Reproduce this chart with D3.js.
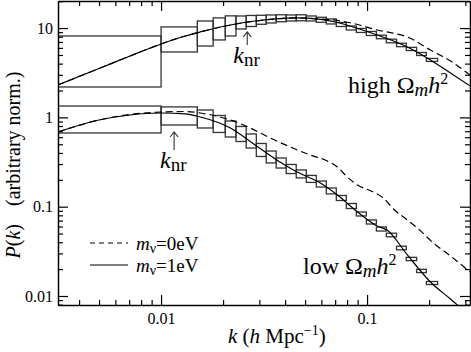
<!DOCTYPE html>
<html>
<head>
<meta charset="utf-8">
<script src="https://cdn.jsdelivr.net/npm/d3@7"></script>
<style>
body { margin: 0; background: #fff; }
svg { display: block; font-family: "Liberation Serif", "Times New Roman", serif; }
.axis path { stroke: #000; stroke-width: 1.5; }
.axis line { stroke: #000; stroke-width: 1.2; }
.axis text { font-size: 16px; fill: #000; font-family: "Liberation Serif", serif; }
</style>
</head>
<body>
<svg width="471" height="352"></svg>
<script>
// bandpower bin edges (k in h/Mpc)
const kEdges = [0.00316, 0.01, 0.015, 0.0179, 0.0205, 0.0231, 0.0259, 0.029, 0.0324, 0.0362,
	0.0405, 0.0453, 0.0507, 0.0567, 0.0634, 0.0709, 0.0793, 0.0887, 0.0992, 0.111,
	0.124, 0.139, 0.155, 0.174, 0.194, 0.22];

// error boxes, high Omega_m h^2 (upper set)
const highLo = [2.19, 5.40, 6.30, 7.36, 8.16, 9.77, 10.42, 11.03, 11.41, 11.77, 12.01, 12.07, 12.01,
	11.61, 11.12, 10.42, 9.52, 8.93, 8.26, 7.59, 6.84, 6.19, 5.60, 4.93, 4.23];
const highHi = [8.16, 10.3, 12.0, 13.0, 13.7, 13.66, 13.84, 13.91, 14.02, 14.09, 14.02, 14.09, 13.66,
	13.21, 12.65, 11.55, 10.56, 9.90, 9.16, 8.33, 7.51, 6.76, 6.08, 5.33, 4.57];

// error boxes, low Omega_m h^2 (lower set)
const lowLo = [0.669, 0.822, 0.761, 0.678, 0.603, 0.537, 0.454, 0.365, 0.309, 0.271, 0.235, 0.210, 0.187,
	0.166, 0.139, 0.1173, 0.0954, 0.0787, 0.0640, 0.0534, 0.0460, 0.0329, 0.0249, 0.0183, 0.01345];
const lowHi = [1.34, 1.31, 1.21, 1.05, 0.911, 0.791, 0.652, 0.510, 0.420, 0.351, 0.297, 0.258, 0.224,
	0.194, 0.162, 0.1335, 0.1086, 0.0872, 0.0710, 0.0593, 0.0505, 0.0361, 0.0271, 0.0199, 0.01453];

// model curves
const kGrid = [0.00316, 0.005, 0.00707, 0.01, 0.0131, 0.0155, 0.0217, 0.0286, 0.0358, 0.0448,
	0.0594, 0.0718, 0.09, 0.112, 0.125, 0.157, 0.203, 0.254, 0.316];
const highNu1 = [2.31, 3.53, 4.87, 6.64, 8.16, 9.05, 10.83, 12.01, 12.65, 12.98,
	12.49, 11.55, 9.90, 8.37, 7.65, 6.14, 4.39, 3.14, 2.25];
const highNu0 = [2.31, 3.53, 4.87, 6.64, 8.16, 9.05, 10.83, 12.01, 12.65, 12.98,
	12.65, 12.17, 10.97, 9.52, 9.05, 7.95, 5.68, 4.28, 2.98];
const lowNu1 = [0.686, 0.935, 1.064, 1.120, 1.092, 1.010, 0.761, 0.491, 0.342, 0.251,
	0.184, 0.135, 0.0872, 0.0608, 0.0548, 0.0288, 0.01435, 0.00926, 0.00597];
const kLowNu0 = [0.00316, 0.005, 0.00707, 0.01, 0.0131, 0.0155, 0.0217, 0.0271, 0.0339, 0.0424,
	0.053, 0.0641, 0.0717, 0.0802, 0.0898, 0.1073, 0.12, 0.1343, 0.157, 0.1756, 0.21, 0.254, 0.316];
const lowNu0 = [0.686, 0.935, 1.078, 1.149, 1.164, 1.120, 0.935, 0.761, 0.588, 0.466,
	0.379, 0.325, 0.278, 0.215, 0.175, 0.146, 0.125, 0.0942, 0.0710, 0.0577, 0.0392, 0.0281, 0.0186];

// k_nr markers: [k, arrow head P, arrow tail P]
const knrHigh = [0.0262, 9.05, 6.47];
const knrLow = [0.01157, 0.686, 0.431];

const xMajor = [0.01, 0.1];
const xTickLabels = ['0.01', '0.1'];
const yMajor = [10, 1, 0.1, 0.01];
const yTickLabels = ['10', '1', '0.1', '0.01'];

const $svg = d3.select('svg');

// dimensions
const margin = {top: 1, right: 1, bottom: 47, left: 58};
const width = 471 - margin.left - margin.right;
const height = 352 - margin.top - margin.bottom;

// scales
const x = d3.scaleLog().domain([0.00316, 0.316]).range([0, width]);
const y = d3.scaleLog().domain([0.00793, 20.1]).range([height, 0]);

const minorOf = (decades, dom) => decades
	.flatMap(d => d3.range(2, 10).map(m => +(d * m).toPrecision(3)))
	.filter(v => v > dom[0] && v < dom[1]);
const xMinor = minorOf([0.001, 0.01, 0.1], x.domain());
const yMinor = minorOf([0.001, 0.01, 0.1, 1, 10], y.domain());

const $vis = $svg.append('g')
	.attr('transform', 'translate(' + margin.left + ',' + margin.top + ')');

$vis.append('clipPath').attr('id', 'plot-clip')
	.append('rect').attr('width', width).attr('height', height);

const $plot = $vis.append('g').attr('clip-path', 'url(#plot-clip)');

// error boxes
function drawBoxes(lo, hi) {
	$plot.append('g').selectAll('rect')
		.data(lo.map((d, i) => ({k0: kEdges[i], k1: kEdges[i + 1], lo: d, hi: hi[i]})))
		.enter()
		.append('rect')
		.attr('x', d => x(d.k0))
		.attr('width', d => x(d.k1) - x(d.k0))
		.attr('y', d => y(d.hi))
		.attr('height', d => y(d.lo) - y(d.hi))
		.attr('fill', 'none')
		.attr('stroke', '#333')
		.attr('stroke-width', 1.3);
}
drawBoxes(highLo, highHi);
drawBoxes(lowLo, lowHi);

// curves
const line = d3.line()
	.x(d => x(d[0]))
	.y(d => y(d[1]))
	.curve(d3.curveMonotoneX);

function drawCurve(ks, ps, dashed) {
	$plot.append('path')
		.datum(ks.map((k, i) => [k, ps[i]]))
		.attr('d', line)
		.attr('fill', 'none')
		.attr('stroke', '#000')
		.attr('stroke-width', 1.2)
		.attr('stroke-dasharray', dashed ? '7,4' : null);
}
drawCurve(kGrid, highNu0, true);
drawCurve(kGrid, highNu1, false);
drawCurve(kLowNu0, lowNu0, true);
drawCurve(kGrid, lowNu1, false);

// axes: ticks point inward on all four sides
function addAxis(axisFn, scale, major, labels, transform, withLabels) {
	const g = $vis.append('g').attr('class', 'axis').attr('transform', transform);
	g.call(axisFn(scale).tickValues(major).tickSize(-10).tickSizeOuter(0)
		.tickPadding(axisFn === d3.axisBottom ? 8 : 5)
		.tickFormat((d, i) => withLabels ? labels[i] : ''));
	const gm = $vis.append('g').attr('class', 'axis').attr('transform', transform);
	gm.call(axisFn(scale).tickValues(axisFn === d3.axisBottom || axisFn === d3.axisTop ? xMinor : yMinor)
		.tickSize(-5).tickSizeOuter(0).tickFormat(''));
	gm.select('.domain').remove();
}
addAxis(d3.axisBottom, x, xMajor, xTickLabels, 'translate(0,' + height + ')', true);
addAxis(d3.axisTop, x, xMajor, xTickLabels, 'translate(0,0)', false);
addAxis(d3.axisLeft, y, yMajor, yTickLabels, 'translate(0,0)', true);
addAxis(d3.axisRight, y, yMajor, yTickLabels, 'translate(' + width + ',0)', false);

// rich text helper
function richText(parent, px, py, parts, size) {
	const t = parent.append('text').attr('x', px).attr('y', py)
		.attr('font-size', size + 'px').attr('fill', '#000');
	parts.forEach(p => {
		const s = t.append('tspan').text(p.t);
		if (p.i) s.attr('font-style', 'italic');
		if (p.s) s.attr('font-size', p.s + 'px');
		if (p.dy) s.attr('dy', p.dy);
		if (p.dx) s.attr('dx', p.dx);
	});
	return t;
}

// panel labels
richText($vis, 290, 92, [{t: 'high Ω'}, {t: 'm', i: 1, s: 19, dy: 3}, {t: 'h', i: 1, dy: -3}, {t: '2', s: 16, dy: -9}], 24);
richText($vis, 245, 273, [{t: 'low Ω'}, {t: 'm', i: 1, s: 19, dy: 3}, {t: 'h', i: 1, dy: -3}, {t: '2', s: 16, dy: -9}], 24);

// k_nr arrows and labels
function knr(m) {
	const ax = x(m[0]);
	const yh = y(m[1]);
	const yt = y(m[2]);
	$vis.append('path')
		.attr('d', 'M' + ax + ',' + yt + 'V' + yh + 'M' + (ax - 4) + ',' + (yh + 5) + 'L' + ax + ',' + yh + 'L' + (ax + 4) + ',' + (yh + 5))
		.attr('fill', 'none').attr('stroke', '#333').attr('stroke-width', 1.1);
	richText($vis, ax - 14, yt + 18, [{t: 'k', i: 1}, {t: 'nr', s: 19, dy: 3}], 24);
}
knr(knrHigh);
knr(knrLow);

// legend
const legend = $vis.append('g').attr('transform', 'translate(32,242)');
[['0', true], ['1', false]].forEach((d, i) => {
	legend.append('line')
		.attr('x1', 0).attr('x2', 38).attr('y1', i * 22).attr('y2', i * 22)
		.attr('stroke', '#000').attr('stroke-width', 1.2)
		.attr('stroke-dasharray', d[1] ? '5,4' : null);
	richText(legend, 46, i * 22 + 7, [{t: 'm', i: 1}, {t: 'ν', s: 14, dy: 3}, {t: '=' + d[0] + 'eV', dy: -3}], 19);
});

// axis titles
richText($vis, 170, 342, [{t: 'k', i: 1}, {t: ' ('}, {t: 'h', i: 1}, {t: ' Mpc'}, {t: '−1', s: 14, dy: -8}, {t: ')', dy: 8}], 21);

const ylab = $svg.append('text')
	.attr('transform', 'translate(20,165) rotate(-90)')
	.attr('text-anchor', 'middle')
	.attr('font-size', '20px');
ylab.append('tspan').attr('font-style', 'italic').text('P');
ylab.append('tspan').text('(');
ylab.append('tspan').attr('font-style', 'italic').text('k');
ylab.append('tspan').text(')');
ylab.append('tspan').attr('dx', 18).text('(arbitrary norm.)');
</script>
</body>
</html>
